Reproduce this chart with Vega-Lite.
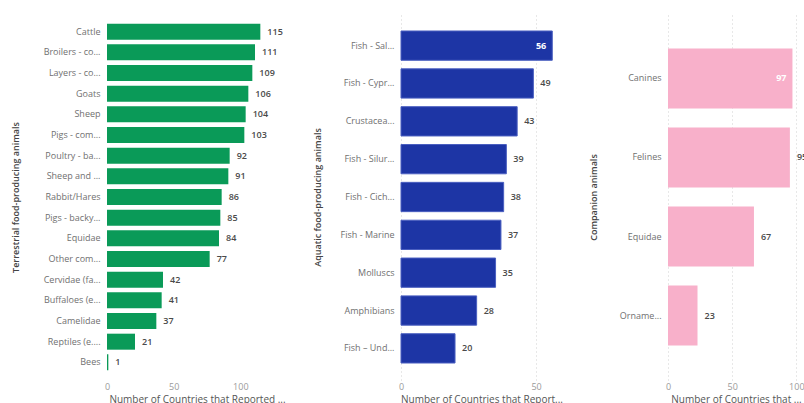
{
  "$schema": "https://vega.github.io/schema/vega-lite/v6.json",
  "padding": {"left": 11, "top": 14, "right": 0, "bottom": 0},
  "background": "white",
  "spacing": 26,
  "datasets": {
    "terrestrial": [
      {"animal": "Cattle", "countries": 115},
      {"animal": "Broilers - co...", "countries": 111},
      {"animal": "Layers - co...", "countries": 109},
      {"animal": "Goats", "countries": 106},
      {"animal": "Sheep", "countries": 104},
      {"animal": "Pigs - com...", "countries": 103},
      {"animal": "Poultry - ba...", "countries": 92},
      {"animal": "Sheep and ...", "countries": 91},
      {"animal": "Rabbit/Hares", "countries": 86},
      {"animal": "Pigs - backy...", "countries": 85},
      {"animal": "Equidae", "countries": 84},
      {"animal": "Other com...", "countries": 77},
      {"animal": "Cervidae (fa...", "countries": 42},
      {"animal": "Buffaloes (e...", "countries": 41},
      {"animal": "Camelidae", "countries": 37},
      {"animal": "Reptiles (e....", "countries": 21},
      {"animal": "Bees", "countries": 1}
    ],
    "aquatic": [
      {"animal": "Fish - Sal...", "countries": 56},
      {"animal": "Fish - Cypr...", "countries": 49},
      {"animal": "Crustacea...", "countries": 43},
      {"animal": "Fish - Silur...", "countries": 39},
      {"animal": "Fish - Cich...", "countries": 38},
      {"animal": "Fish - Marine", "countries": 37},
      {"animal": "Molluscs", "countries": 35},
      {"animal": "Amphibians", "countries": 28},
      {"animal": "Fish – Und...", "countries": 20}
    ],
    "companion": [
      {"animal": "Canines", "countries": 97},
      {"animal": "Felines", "countries": 95},
      {"animal": "Equidae", "countries": 67},
      {"animal": "Orname...", "countries": 23}
    ]
  },
  "config": {
    "view": {"stroke": null},
    "font": "Open Sans",
    "axisX": {
      "domain": false, "ticks": false, "labelColor": "#9a9a9a", "labelFontSize": 9,
      "labelPadding": 2, "titleColor": "#555555", "titleFontSize": 10, "titleFontWeight": "normal",
      "titlePadding": 3, "gridDash": [1, 3], "gridColor": "#d0d0d0", "labelFlush": false
    },
    "axisY": {
      "domain": false, "ticks": false, "labelColor": "#707070", "labelFontSize": 9,
      "labelPadding": 7, "titleColor": "#444444", "titleFontSize": 9, "titleFontWeight": 600,
      "labelLimit": 200
    }
  },
  "hconcat": [
    {
      "width": 180, "height": 366,
      "data": {"name": "terrestrial"},
      "encoding": {
        "y": {"field": "animal", "type": "nominal",
              "sort": ["Cattle", "Broilers - co...", "Layers - co...", "Goats", "Sheep", "Pigs - com...", "Poultry - ba...", "Sheep and ...", "Rabbit/Hares", "Pigs - backy...", "Equidae", "Other com...", "Cervidae (fa...", "Buffaloes (e...", "Camelidae", "Reptiles (e....", "Bees"],
              "scale": {"paddingInner": 0.226, "paddingOuter": 0.467},
              "axis": {"title": "Terrestrial food-producing animals", "minExtent": 70, "maxExtent": 70, "titlePadding": 17}},
        "x": {"field": "countries", "type": "quantitative", "scale": {"domain": [0, 135]},
              "axis": {"values": [0, 50, 100], "title": "Number of Countries that Reported ...", "grid": false}}
      },
      "layer": [
        {"mark": {"type": "bar", "color": "#0a9a58"}},
        {"mark": {"type": "text", "align": "left", "dx": 7, "fontSize": 9, "fontWeight": 600, "color": "#4a4a4a"},
         "encoding": {"text": {"field": "countries", "type": "quantitative"}}}
      ]
    },
    {
      "width": 161, "height": 366,
      "data": {"name": "aquatic"},
      "encoding": {
        "y": {"field": "animal", "type": "nominal",
              "sort": ["Fish - Sal...", "Fish - Cypr...", "Crustacea...", "Fish - Silur...", "Fish - Cich...", "Fish - Marine", "Molluscs", "Amphibians", "Fish – Und..."],
              "scale": {"paddingInner": 0.226, "paddingOuter": 0.449},
              "axis": {"title": "Aquatic food-producing animals", "minExtent": 70, "maxExtent": 70, "titlePadding": 9}},
        "x": {"field": "countries", "type": "quantitative", "scale": {"domain": [0, 59.6]},
              "axis": {"values": [0, 50], "title": "Number of Countries that Report...", "grid": true}}
      },
      "layer": [
        {"mark": {"type": "bar", "color": "#1d35a5", "stroke": "#4a5fc0", "strokeWidth": 1}},
        {"transform": [{"filter": "datum.countries < 50"}],
         "mark": {"type": "text", "align": "left", "dx": 7, "fontSize": 9, "fontWeight": 600, "color": "#4a4a4a"},
         "encoding": {"text": {"field": "countries", "type": "quantitative"}}},
        {"transform": [{"filter": "datum.countries >= 50"}],
         "mark": {"type": "text", "align": "right", "dx": -6, "fontSize": 9, "fontWeight": "bold", "color": "#ffffff"},
         "encoding": {"text": {"field": "countries", "type": "quantitative"}}}
      ]
    },
    {
      "width": 136, "height": 366,
      "data": {"name": "companion"},
      "encoding": {
        "y": {"field": "animal", "type": "nominal",
              "sort": ["Canines", "Felines", "Equidae", "Orname..."],
              "scale": {"paddingInner": 0.241, "paddingOuter": 0.435},
              "axis": {"title": "Companion animals", "minExtent": 60, "maxExtent": 60, "titlePadding": 10}},
        "x": {"field": "countries", "type": "quantitative", "scale": {"domain": [0, 106]},
              "axis": {"values": [0, 50, 100], "title": "Number of Countries that ...", "grid": true}}
      },
      "layer": [
        {"mark": {"type": "bar", "color": "#f8b0ca"}},
        {"transform": [{"filter": "datum.countries < 96"}],
         "mark": {"type": "text", "align": "left", "dx": 7, "fontSize": 9, "fontWeight": 600, "color": "#4a4a4a"},
         "encoding": {"text": {"field": "countries", "type": "quantitative"}}},
        {"transform": [{"filter": "datum.countries >= 96"}],
         "mark": {"type": "text", "align": "right", "dx": -6, "fontSize": 9, "fontWeight": "bold", "color": "#ffffff"},
         "encoding": {"text": {"field": "countries", "type": "quantitative"}}}
      ]
    }
  ]
}
